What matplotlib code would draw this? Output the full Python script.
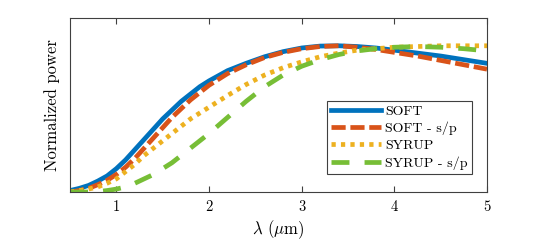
import matplotlib
matplotlib.use('Agg')
import matplotlib.pyplot as plt

plt.rcParams['font.family'] = 'cmr10'
plt.rcParams['mathtext.fontset'] = 'cm'
plt.rcParams['axes.formatter.use_mathtext'] = True

# longitudes de onda (um) y potencia normalizada
lam = [0.5, 0.6, 0.7, 0.8, 0.9, 1.0, 1.1, 1.2, 1.3, 1.4, 1.5, 1.6, 1.7, 1.8, 1.9,
       2.0, 2.2, 2.4, 2.6, 2.8, 3.0, 3.2, 3.4, 3.6, 3.8, 4.0, 4.25, 4.5, 4.75, 5.0]
soft = [0.01, 0.025, 0.045, 0.075, 0.11, 0.16, 0.22, 0.29, 0.36, 0.43, 0.50, 0.56,
        0.62, 0.67, 0.72, 0.76, 0.83, 0.88, 0.925, 0.96, 0.985, 0.998, 1.0, 0.995,
        0.985, 0.97, 0.95, 0.93, 0.905, 0.88]
soft_sp = [0.0, 0.01, 0.025, 0.05, 0.08, 0.12, 0.17, 0.23, 0.30, 0.37, 0.44, 0.51,
           0.57, 0.63, 0.68, 0.73, 0.81, 0.87, 0.92, 0.955, 0.98, 0.995, 1.0, 0.99,
           0.975, 0.955, 0.93, 0.90, 0.87, 0.84]
syrup = [0.0, 0.01, 0.02, 0.035, 0.06, 0.09, 0.14, 0.19, 0.25, 0.30, 0.35, 0.40,
         0.45, 0.50, 0.54, 0.58, 0.66, 0.735, 0.80, 0.85, 0.89, 0.925, 0.95, 0.97,
         0.98, 0.99, 0.995, 1.0, 1.0, 1.0]
syrup_sp = [0.0, 0.0, 0.0, 0.003, 0.01, 0.02, 0.035, 0.06, 0.09, 0.12, 0.16, 0.20,
            0.25, 0.30, 0.35, 0.40, 0.51, 0.62, 0.72, 0.80, 0.86, 0.905, 0.94, 0.965,
            0.98, 0.99, 0.995, 0.99, 0.98, 0.965]

xticks = [1, 2, 3, 4, 5]

fig = plt.figure(figsize=(5.39, 2.40), dpi=100)
ax = fig.add_axes([0.130, 0.20, 0.7735, 0.725])

ax.plot(lam, soft, color='#0072BD', lw=3.4, label='SOFT')
ax.plot(lam, soft_sp, color='#D95319', lw=3.4, ls=(0, (3.0, 1.0)), label='SOFT - s/p')
ax.plot(lam, syrup, color='#EDB120', lw=3.4, ls=(0, (0.9, 1.1)), label='SYRUP')
ax.plot(lam, syrup_sp, color='#77BE36', lw=3.4, ls=(0, (3.8, 3.2)),
        label='SYRUP - s/p')

ax.set_xlim(0.5, 5)
ax.set_ylim(0, 1.19)
ax.set_xticks(xticks)
ax.set_xticklabels([str(t) for t in xticks])
ax.set_yticks([])
ax.tick_params(axis='x', direction='in', top=True, length=4, width=0.8,
               color='#404040', labelsize=10.5, pad=6)
for sp in ax.spines.values():
    sp.set_color('#404040')
    sp.set_linewidth(0.8)

ax.set_xlabel(r'$\lambda$ ($\mu$m)', fontsize=12, labelpad=3)
ax.set_ylabel('Normalized power', fontsize=12, labelpad=7)

leg = ax.legend(loc='lower right', bbox_to_anchor=(0.964, 0.103), borderaxespad=0,
                fontsize=10, handlelength=3.6, handletextpad=0.3, borderpad=0.3,
                labelspacing=0.3, fancybox=False, framealpha=1)
leg.get_frame().set_edgecolor('#404040')
leg.get_frame().set_linewidth(0.8)

fig.savefig('out.png', dpi=100)
